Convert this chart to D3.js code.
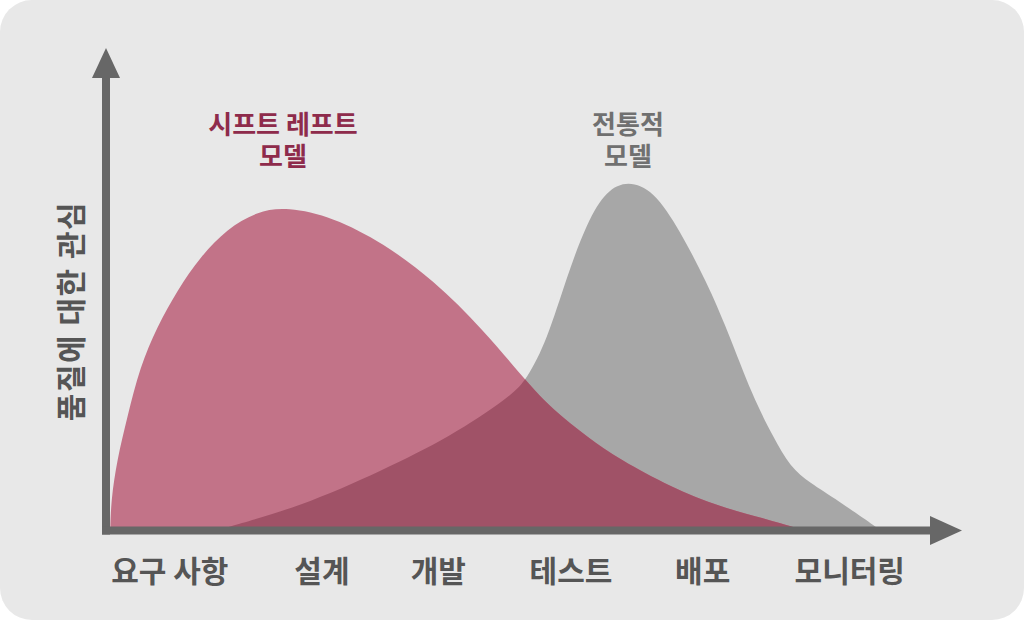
<!DOCTYPE html>
<html>
<head>
<meta charset="utf-8">
<script src="https://cdn.jsdelivr.net/npm/d3@7"></script>
<style>
  html, body { margin: 0; padding: 0; background: #ffffff; }
  text { font-family: "Noto Sans CJK KR", "Noto Sans", sans-serif; }
</style>
</head>
<body>
<div id="my_dataviz"></div>
<script>
// stage labels on the x axis and where they sit (0-100 progress units)
var stages = ["요구 사항", "설계", "개발", "테스트", "배포", "모니터링"];
var stagePos = [7.5, 25.4, 39.1, 54.7, 70.2, 87.5];

// shift-left model curve (x progress, y interest)
var shiftX = [0.5, 0.5, 0.6, 1.3, 2.5, 4.0, 6.0, 8.4, 11.1, 14.2, 17.8, 21.3, 26.7, 32.6, 38.5, 44.4, 49.5, 52.6, 56.6, 60.5, 66.4, 72.2, 78.1, 82.0, 82.0];
var shiftY = [0, 0, 6.3, 14.6, 23.5, 34.0, 42.3, 50.0, 56.9, 62.7, 66.4, 67.3, 65.2, 59.8, 52.1, 41.7, 30.8, 25.0, 19.4, 14.6, 9.0, 4.8, 2.1, 0, 0];

// traditional model curve
var tradX = [13.1, 13.1, 22.8, 32.6, 40.5, 47.5, 49.5, 51.9, 54.2, 56.6, 58.9, 61.4, 64.4, 67.5, 70.7, 73.1, 76.1, 78.5, 80.5, 82.8, 86.0, 91.1, 91.1];
var tradY = [0, 0, 4.8, 12.5, 19.4, 27.7, 31.3, 39.6, 52.7, 64.2, 70.8, 72.8, 70.8, 62.5, 51.5, 41.7, 27.7, 19.4, 13.1, 9.8, 6.3, 0, 0];

var shiftTitle = ["시프트 레프트", "모델"];
var tradTitle = ["전통적", "모델"];
var yTitle = "품질에 대한 관심";

var width = 1024,
  height = 620;

var svg = d3
  .select("#my_dataviz")
  .append("svg")
  .attr("id", "svg")
  .attr("width", width)
  .attr("height", height);

// panel background
svg
  .append("rect")
  .attr("width", width)
  .attr("height", height)
  .attr("rx", 32)
  .attr("fill", "#e8e8e8");

var x = d3.scaleLinear().domain([0, 100]).range([106, 956]);
var y = d3.scaleLinear().domain([0, 100]).range([530, 50]);

var shiftData = shiftX.map(function (d, i) {
  return { x: d, y: shiftY[i] };
});
var tradData = tradX.map(function (d, i) {
  return { x: d, y: tradY[i] };
});

var area = d3
  .area()
  .x(function (d) { return x(d.x); })
  .y0(y(0))
  .y1(function (d) { return y(d.y); })
  .curve(d3.curveBasis);

// clip for the overlap of both curves
svg
  .append("clipPath")
  .attr("id", "tradClip")
  .append("path")
  .attr("d", area(tradData));

svg.append("path").attr("d", area(tradData)).attr("fill", "#a7a7a7");
svg.append("path").attr("d", area(shiftData)).attr("fill", "#c27388");
svg
  .append("path")
  .attr("d", area(shiftData))
  .attr("clip-path", "url(#tradClip)")
  .attr("fill", "#a05267");

// axes with arrow heads
var axisColor = "#676767";
var x0 = x.range()[0],
  x1 = x.range()[1],
  y0 = y.range()[0],
  y1 = y.range()[1];

svg
  .append("rect")
  .attr("x", x0 - 4)
  .attr("y", y1 + 26)
  .attr("width", 8)
  .attr("height", y0 + 4.5 - (y1 + 26))
  .attr("fill", axisColor);
svg
  .append("path")
  .attr("d", "M" + (x0 - 14) + "," + (y1 + 28) + "L" + (x0 + 14) + "," + (y1 + 28) + "L" + x0 + "," + (y1 - 2) + "Z")
  .attr("fill", axisColor);

svg
  .append("rect")
  .attr("x", x0 - 4)
  .attr("y", y0 - 3.5)
  .attr("width", x1 - 22 - (x0 - 4))
  .attr("height", 8)
  .attr("fill", axisColor);
svg
  .append("path")
  .attr("d", "M" + (x1 - 26) + "," + (y0 - 14) + "L" + (x1 - 26) + "," + (y0 + 15) + "L" + (x1 + 6) + "," + (y0 + 0.5) + "Z")
  .attr("fill", axisColor);

// stage labels
svg
  .selectAll(".stage")
  .data(stages)
  .enter()
  .append("text")
  .attr("class", "stage")
  .attr("x", function (d, i) { return x(stagePos[i]); })
  .attr("y", 569)
  .attr("text-anchor", "middle")
  .attr("dominant-baseline", "central")
  .attr("font-size", 30)
  .attr("font-weight", 700)
  .attr("fill", "#555555")
  .text(function (d) { return d; });

// y title
svg
  .append("text")
  .attr("transform", "translate(69,311)rotate(-90)")
  .attr("text-anchor", "middle")
  .attr("dominant-baseline", "central")
  .attr("font-size", 30)
  .attr("font-weight", 700)
  .attr("letter-spacing", 1.5)
  .attr("fill", "#555555")
  .text(yTitle);

// curve titles
function addTitle(lines, cx, color) {
  svg
    .selectAll(null)
    .data(lines)
    .enter()
    .append("text")
    .attr("x", cx)
    .attr("y", function (d, i) { return 122 + i * 32; })
    .attr("text-anchor", "middle")
    .attr("dominant-baseline", "central")
    .attr("font-size", 26)
    .attr("font-weight", 700)
    .attr("fill", color)
    .text(function (d) { return d; });
}
addTitle(shiftTitle, 283, "#8e2b4b");
addTitle(tradTitle, 628, "#707070");
</script>
</body>
</html>
